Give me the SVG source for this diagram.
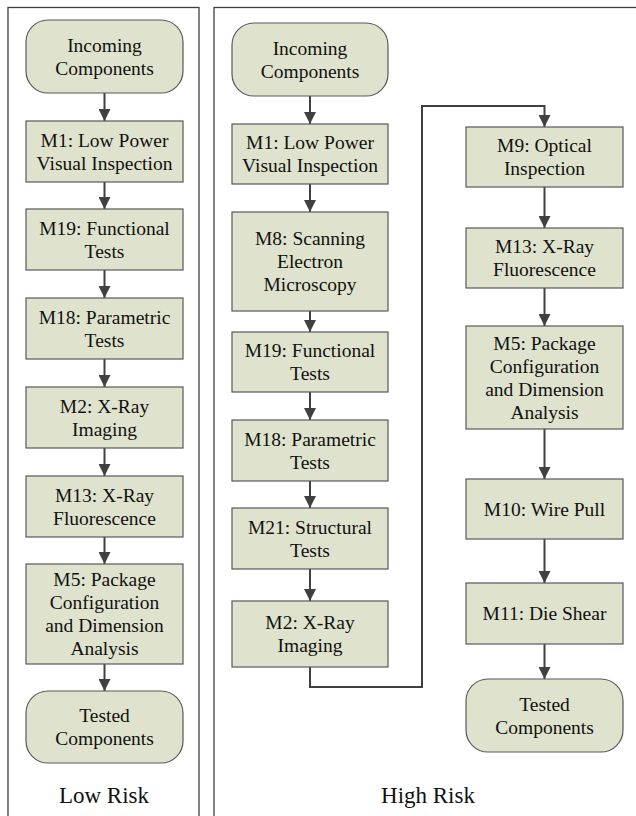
<svg xmlns="http://www.w3.org/2000/svg" width="636" height="816" viewBox="0 0 636 816">
<style>
.frame{fill:none;stroke:#3f3f3f;stroke-width:1.3}
.box{fill:#dfe3cd;stroke:#595959;stroke-width:1.2}
text{font-family:'Liberation Serif',Tinos,'Times New Roman',Times,'DejaVu Serif',serif;fill:#111;text-anchor:middle}
.t{font-size:19.5px}
.lbl{font-size:23px}
.c{fill:none;stroke:#404040;stroke-width:2;marker-end:url(#ah)}
</style>
<defs>
<marker id="ah" markerUnits="userSpaceOnUse" markerWidth="12" markerHeight="12" refX="12" refY="6" orient="auto">
<path d="M0,0 L12,6 L0,12 z" fill="#404040"/>
</marker>
</defs>
<rect x="0" y="0" width="636" height="816" fill="#fff"/>
<g id="frames">
<rect class="frame" x="8" y="7.5" width="191" height="820"/>
<rect class="frame" x="214" y="7.5" width="430" height="820"/>
<text class="lbl" x="104" y="803" font-family="Liberation Serif, serif">Low Risk</text>
<text class="lbl" x="428" y="803" font-family="Liberation Serif, serif">High Risk</text>
</g>
<g id="connectors">
<path class="c" d="M104.5,93 V121"/>
<path class="c" d="M104.5,182 V209"/>
<path class="c" d="M104.5,270 V298"/>
<path class="c" d="M104.5,359 V387"/>
<path class="c" d="M104.5,448 V476"/>
<path class="c" d="M104.5,537 V564"/>
<path class="c" d="M104.5,664 V691"/>
<path class="c" d="M310,96 V124"/>
<path class="c" d="M310,184 V212"/>
<path class="c" d="M310,311 V332"/>
<path class="c" d="M310,392 V420"/>
<path class="c" d="M310,481 V508"/>
<path class="c" d="M310,569 V601"/>
<path class="c" d="M310,667 V687 H422 V106 H544.5 V127"/>
<path class="c" d="M544.5,187 V228"/>
<path class="c" d="M544.5,288 V326"/>
<path class="c" d="M544.5,429 V479"/>
<path class="c" d="M544.5,539 V583"/>
<path class="c" d="M544.5,644 V679"/>
</g>
<g id="L_in"><rect class="box" x="26" y="20" width="157" height="73" rx="22"/><text class="t" x="104.5" y="51.5">Incoming</text><text class="t" x="104.5" y="74.5">Components</text></g>
<g id="L_m1"><rect class="box" x="26" y="121" width="157" height="61"/><text class="t" x="104.5" y="146.5">M1: Low Power</text><text class="t" x="104.5" y="169.5">Visual Inspection</text></g>
<g id="L_m19"><rect class="box" x="26" y="209" width="157" height="61"/><text class="t" x="104.5" y="234.5">M19: Functional</text><text class="t" x="104.5" y="257.5">Tests</text></g>
<g id="L_m18"><rect class="box" x="26" y="298" width="157" height="61"/><text class="t" x="104.5" y="323.5">M18: Parametric</text><text class="t" x="104.5" y="346.5">Tests</text></g>
<g id="L_m2"><rect class="box" x="26" y="387" width="157" height="61"/><text class="t" x="104.5" y="412.5">M2: X-Ray</text><text class="t" x="104.5" y="435.5">Imaging</text></g>
<g id="L_m13"><rect class="box" x="26" y="476" width="157" height="61"/><text class="t" x="104.5" y="501.5">M13: X-Ray</text><text class="t" x="104.5" y="524.5">Fluorescence</text></g>
<g id="L_m5"><rect class="box" x="26" y="564" width="157" height="100"/><text class="t" x="104.5" y="586">M5: Package</text><text class="t" x="104.5" y="609">Configuration</text><text class="t" x="104.5" y="632">and Dimension</text><text class="t" x="104.5" y="655">Analysis</text></g>
<g id="L_out"><rect class="box" x="26" y="691" width="157" height="72" rx="22"/><text class="t" x="104.5" y="722">Tested</text><text class="t" x="104.5" y="745">Components</text></g>
<g id="H_in"><rect class="box" x="232" y="23" width="156" height="73" rx="22"/><text class="t" x="310" y="54.5">Incoming</text><text class="t" x="310" y="77.5">Components</text></g>
<g id="H_m1"><rect class="box" x="232" y="124" width="156" height="60"/><text class="t" x="310" y="149">M1: Low Power</text><text class="t" x="310" y="172">Visual Inspection</text></g>
<g id="H_m8"><rect class="box" x="232" y="212" width="156" height="99"/><text class="t" x="310" y="245">M8: Scanning</text><text class="t" x="310" y="268">Electron</text><text class="t" x="310" y="291">Microscopy</text></g>
<g id="H_m19"><rect class="box" x="232" y="332" width="156" height="60"/><text class="t" x="310" y="357">M19: Functional</text><text class="t" x="310" y="380">Tests</text></g>
<g id="H_m18"><rect class="box" x="232" y="420" width="156" height="61"/><text class="t" x="310" y="445.5">M18: Parametric</text><text class="t" x="310" y="468.5">Tests</text></g>
<g id="H_m21"><rect class="box" x="232" y="508" width="156" height="61"/><text class="t" x="310" y="533.5">M21: Structural</text><text class="t" x="310" y="556.5">Tests</text></g>
<g id="H_m2"><rect class="box" x="232" y="601" width="156" height="66"/><text class="t" x="310" y="629">M2: X-Ray</text><text class="t" x="310" y="652">Imaging</text></g>
<g id="H_m9"><rect class="box" x="466" y="127" width="157" height="60"/><text class="t" x="544.5" y="152">M9: Optical</text><text class="t" x="544.5" y="175">Inspection</text></g>
<g id="H_m13"><rect class="box" x="466" y="228" width="157" height="60"/><text class="t" x="544.5" y="253">M13: X-Ray</text><text class="t" x="544.5" y="276">Fluorescence</text></g>
<g id="H_m5"><rect class="box" x="466" y="326" width="157" height="103"/><text class="t" x="544.5" y="349.5">M5: Package</text><text class="t" x="544.5" y="372.5">Configuration</text><text class="t" x="544.5" y="395.5">and Dimension</text><text class="t" x="544.5" y="418.5">Analysis</text></g>
<g id="H_m10"><rect class="box" x="466" y="479" width="157" height="60"/><text class="t" x="544.5" y="515.5">M10: Wire Pull</text></g>
<g id="H_m11"><rect class="box" x="466" y="583" width="157" height="61"/><text class="t" x="544.5" y="620">M11: Die Shear</text></g>
<g id="H_out"><rect class="box" x="466" y="679" width="157" height="73" rx="22"/><text class="t" x="544.5" y="710.5">Tested</text><text class="t" x="544.5" y="733.5">Components</text></g>
</svg>
